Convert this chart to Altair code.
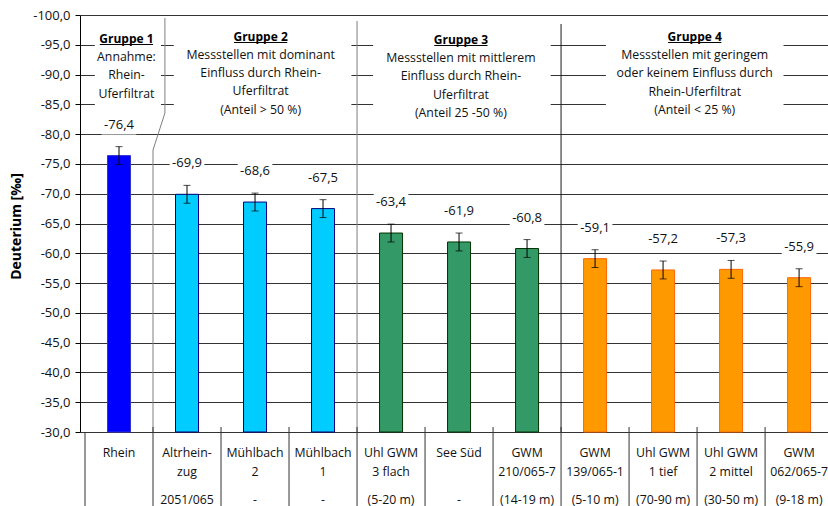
import altair as alt
import pandas as pd

# --- data -----------------------------------------------------------------
station_row1 = ["Rhein", "Altrhein-", "Mühlbach", "Mühlbach", "Uhl GWM", "See Süd",
                "GWM", "GWM", "Uhl GWM", "Uhl GWM", "GWM"]
station_row2 = ["", "zug", "2", "1", "3 flach", "", "210/065-7", "139/065-1",
                "1 tief", "2 mittel", "062/065-7"]
station_row3 = ["", "2051/065", "-", "-", "(5-20 m)", "-", "(14-19 m)", "(5-10 m)",
                "(70-90 m)", "(30-50 m)", "(9-18 m)"]
group = [1, 2, 2, 2, 3, 3, 3, 4, 4, 4, 4]
deuterium = [-76.4, -69.9, -68.6, -67.5, -63.4, -61.9, -60.8, -59.1, -57.2, -57.3, -55.9]
uncertainty = [1.5, 1.5, 1.5, 1.5, 1.5, 1.5, 1.5, 1.5, 1.5, 1.5, 1.5]
y_ticks = [-100, -95, -90, -85, -80, -75, -70, -65, -60, -55, -50, -45, -40, -35, -30]

group_text = [
    ["Gruppe 1", "Annahme:", "Rhein-", "Uferfiltrat"],
    ["Gruppe 2", "Messstellen mit dominant", "Einfluss durch Rhein-", "Uferfiltrat",
     "(Anteil > 50 %)"],
    ["Gruppe 3", "Messstellen mit mittlerem", "Einfluss durch Rhein-", "Uferfiltrat",
     "(Anteil 25 -50 %)"],
    ["Gruppe 4", "Messstellen mit geringem", "oder keinem Einfluss durch",
     "Rhein-Uferfiltrat", "(Anteil < 25 %)"],
]

# --- layout ---------------------------------------------------------------
FONT = "Open Sans"
TXT = "#111111"
W, H = 748, 417
LEFT, TOP, BOTTOM = 80, 15, 74
Y_MIN, Y_MAX = -100, -30
CAT = 68.93                      # pixels per station
PXU = H / (Y_MAX - Y_MIN)        # pixels per permil


def xi(px):
    """page x pixel -> station index units"""
    return (px - LEFT) / CAT - 0.5


def yv(py):
    """page y pixel -> permil units"""
    return Y_MIN + (py - TOP) / PXU


LABEL_LIFT = 31                  # value labels sit this many px above the bar top

xs = alt.Scale(domain=[-0.5, xi(LEFT + W)], nice=False, zero=False)
ys = alt.Scale(domain=[Y_MIN, Y_MAX], reverse=True, nice=False, zero=False)

# one shared y axis definition, used by every layer so that they merge
y_axis = alt.Axis(
    values=y_ticks,
    labelExpr="'-' + replace(format(abs(datum.value), '.1f'), '.', ',')",
    labelFont=FONT, labelFontSize=13, labelColor=TXT, labelPadding=5,
    tickSize=5, tickColor="#000", tickWidth=1,
    domainColor="#000", domainWidth=1,
    grid=True, gridColor="#333", gridWidth=1, gridOpacity=1,
    title="Deuterium [‰]", titleFont=FONT, titleFontSize=14, titleFontWeight="bold",
    titleColor="#000", titleAngle=270, titleX=-64, titleY=211,
    titleAlign="center", titleBaseline="middle",
)

n = len(deuterium)
df = pd.DataFrame({
    "idx": list(range(n)),
    "value": deuterium,
    "err": uncertainty,
    "grp": [str(g) for g in group],
    "r1": station_row1,
    "r2": station_row2,
    "r3": station_row3,
})

lift = LABEL_LIFT / PXU
base = alt.Chart(df).transform_calculate(
    lo="datum.value - datum.err",
    hi="datum.value + datum.err",
    label="'-' + replace(format(abs(datum.value), '.1f'), '.', ',')",
    lab_y=f"datum.value - {lift}",
    box_x1="datum.idx - 0.255",
    box_x2="datum.idx + 0.255",
    box_y1=f"datum.value - {lift} - {10 / PXU}",
    box_y2=f"datum.value - {lift} + {10 / PXU}",
)

X = lambda f: alt.X(f, type="quantitative", scale=xs, axis=None)
Y = lambda f: alt.Y(f, type="quantitative", scale=ys, axis=y_axis)

# white panels behind the group descriptions (they interrupt the gridlines)
panels = pd.DataFrame({
    "x1": [xi(90), xi(170), xi(372), xi(608)],
    "x2": [xi(157), xi(350), xi(552), xi(788)],
    "y1": [yv(22), yv(20), yv(20), yv(20)],
    "y2": [yv(112), yv(124), yv(124), yv(124)],
})
panel_layer = alt.Chart(panels).mark_rect(color="white").encode(
    x=X("x1:Q"), x2="x2:Q", y=Y("y1:Q"), y2="y2:Q",
)

# white patches behind the value labels
value_boxes = base.mark_rect(color="white").encode(
    x=X("box_x1:Q"), x2="box_x2:Q", y=Y("box_y1:Q"), y2="box_y2:Q"
)

# group separators
seps = pd.DataFrame({
    "x1": [xi(161), xi(161), 0.5, 3.5, 6.5],
    "x2": [xi(161), 0.5, 0.5, 3.5, 6.5],
    "y1": [yv(18), yv(113), yv(150), yv(21), yv(24)],
    "y2": [yv(113), yv(150), Y_MAX, Y_MAX, Y_MAX],
    "c": ["#7f7f7f", "#7f7f7f", "#7f7f7f", "#7f7f7f", "#1a1a1a"],
})
sep_layer = alt.Chart(seps).mark_rule(strokeWidth=1).encode(
    x=X("x1:Q"), x2="x2:Q", y=Y("y1:Q"), y2="y2:Q",
    color=alt.Color("c:N", scale=None),
)

# table grid below the axis
table = pd.DataFrame({
    "x": [-0.5] + [k + 0.5 for k in range(n - 1)],
    "y1": [Y_MAX] + [yv(427)] * (n - 1),
    "y2": [yv(TOP + H + BOTTOM + 5)] * n,
})
table_layer = alt.Chart(table).mark_rule(color="#333", strokeWidth=1).encode(
    x=X("x:Q"), y=Y("y1:Q"), y2="y2:Q"
)

# bars from the axis floor up to each mean value
fill_scale = alt.Scale(domain=["1", "2", "3", "4"],
                       range=["#0000ff", "#00ccff", "#339966", "#ff9900"])
stroke_scale = alt.Scale(domain=["1", "2", "3", "4"],
                         range=["#3333cc", "#000080", "#003300", "#ff6600"])
bars = base.mark_bar(size=23, strokeWidth=1).encode(
    x=X("idx:Q"),
    y=Y("value:Q"),
    y2=alt.datum(Y_MAX),
    fill=alt.Fill("grp:N", scale=fill_scale, legend=None),
    stroke=alt.Stroke("grp:N", scale=stroke_scale, legend=None),
)

# error bars
err_stem = base.mark_rule(color="#000", strokeWidth=1).encode(
    x=X("idx:Q"), y=Y("lo:Q"), y2="hi:Q"
)
err_top = base.mark_tick(orient="horizontal", size=7, thickness=1, color="#000").encode(
    x=X("idx:Q"), y=Y("lo:Q")
)
err_bot = base.mark_tick(orient="horizontal", size=7, thickness=1, color="#000").encode(
    x=X("idx:Q"), y=Y("hi:Q")
)

value_text = base.mark_text(font=FONT, fontSize=13, color=TXT, baseline="middle").encode(
    x=X("idx:Q"), y=Y("lab_y:Q"), text="label:N"
)

# group descriptions
g_center = [122, 258, 461, 698]
g_lines_y = [
    [39, 57, 75, 93.5],
    [37, 55, 73, 91, 110],
    [40, 58, 76, 95, 113],
    [37, 55, 73, 92, 110],
]
rows = []
for gc, texts, ys_px in zip(g_center, group_text, g_lines_y):
    for i, (t, py) in enumerate(zip(texts, ys_px)):
        rows.append({"x": xi(gc), "y": yv(py), "t": t, "w": "bold" if i == 0 else "normal"})
gtxt = pd.DataFrame(rows)
group_bold = alt.Chart(gtxt).transform_filter("datum.w == 'bold'").mark_text(
    font=FONT, fontSize=12, fontWeight="bold", color="#000", baseline="middle"
).encode(x=X("x:Q"), y=Y("y:Q"), text="t:N")
group_plain = alt.Chart(gtxt).transform_filter("datum.w == 'normal'").mark_text(
    font=FONT, fontSize=12.3, color=TXT, baseline="middle"
).encode(x=X("x:Q"), y=Y("y:Q"), text="t:N")

ul = pd.DataFrame({
    "x1": [xi(c) - 27 / CAT for c in g_center],
    "x2": [xi(c) + 27 / CAT for c in g_center],
    "y": [yv(py[0] + 5.5) for py in g_lines_y],
})
underline = alt.Chart(ul).mark_rule(color="#000", strokeWidth=1).encode(
    x=X("x1:Q"), x2="x2:Q", y=Y("y:Q")
)

# station names below the axis
cat_style = dict(font=FONT, fontSize=12.3, color=TXT, baseline="middle")
cat1 = base.mark_text(**cat_style).encode(x=X("idx:Q"), y=alt.value(438), text="r1:N")
cat2 = base.mark_text(**cat_style).encode(x=X("idx:Q"), y=alt.value(457), text="r2:N")
cat3 = base.mark_text(**cat_style).encode(x=X("idx:Q"), y=alt.value(485), text="r3:N")

chart = alt.layer(
    panel_layer, value_boxes, sep_layer, table_layer, bars,
    err_stem, err_top, err_bot, value_text, group_bold, group_plain, underline,
    cat1, cat2, cat3,
).properties(
    width=W, height=H,
    autosize=alt.AutoSizeParams(type="none"),
    padding={"left": LEFT, "top": TOP, "right": 0, "bottom": BOTTOM},
    background="white",
).configure_view(stroke=None)

chart.save("out.html", embed_options={"renderer": "svg", "actions": False})
